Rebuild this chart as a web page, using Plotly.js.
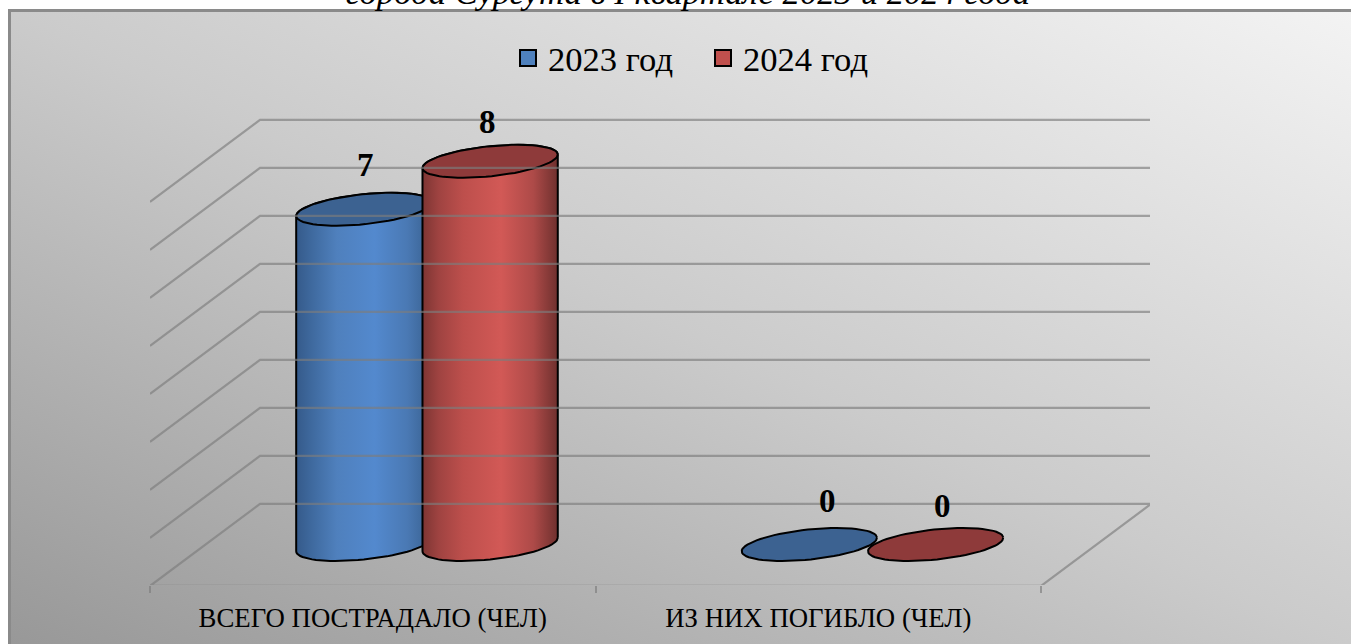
<!DOCTYPE html>
<html lang="ru">
<head>
<meta charset="utf-8">
<script src="https://cdn.plot.ly/plotly-3.0.1.min.js"></script>
<style>
html,body{margin:0;padding:0;background:#fff;overflow:hidden;width:1351px;height:644px}
#frame{position:absolute;left:8px;top:9px;width:1343px;height:635px;box-sizing:border-box;
border-left:3px solid #8a8a8a;border-top:3px solid #8a8a8a;
background:linear-gradient(to top right,#989898 0%,#cbcbcb 50%,#f3f3f3 100%)}
#chart{position:absolute;left:0;top:0;width:1351px;height:644px}
</style>
</head>
<body>
<div id="frame"></div>
<div id="chart"></div>
<script>
const categories = ['ВСЕГО ПОСТРАДАЛО (ЧЕЛ)', 'ИЗ НИХ ПОГИБЛО (ЧЕЛ)'];
const seriesNames = ['2023 год', '2024 год'];
const values2023 = [7, 0];
const values2024 = [8, 0];
const gridLevels = [1, 2, 3, 4, 5, 6, 7, 8];
const chartTitle = 'города Сургута в I квартале 2023 и 2024 года';

const pxX = 1 / 445.5, pxY = 1 / 47.9;            // axis units per pixel
const depthX = 110 * pxX, depthY = 82 / 48;       // wall depth in wall units
const serif = '"Liberation Serif","Times New Roman",serif';

const series = [
  {name: seriesNames[0], values: values2023, shift: -0.02, flat: '#4f81bd', lid: '#3c6291',
   grad: [[0,'#355a8a'],[0.12,'#3f6a9f'],[0.3,'#4f80bd'],[0.58,'#5389ce'],[0.82,'#4a79b4'],[1,'#38608f']]},
  {name: seriesNames[1], values: values2024, shift: 0.2635, flat: '#c0504d', lid: '#8e3a3a',
   grad: [[0,'#7d3533'],[0.12,'#9f4341'],[0.3,'#bd4f4c'],[0.58,'#d25956'],[0.82,'#ad4a48'],[1,'#6f302e']]}
];

// tilted ellipse of a cylinder cap, in pixels relative to its centre
const A = 68, B = 15, TH = 6 * Math.PI / 180;
const capPoint = t => [A * Math.cos(t) * Math.cos(TH) + B * Math.sin(t) * Math.sin(TH),
                       A * Math.cos(t) * Math.sin(TH) - B * Math.sin(t) * Math.cos(TH)];
const T0 = Math.atan2(B * Math.sin(TH), A * Math.cos(TH));

function capOutline(cx, v) {
  const xs = [], ys = [];
  for (let i = 0; i <= 72; i++) {
    const p = capPoint(i / 72 * 2 * Math.PI);
    xs.push(cx + p[0] * pxX); ys.push(v + p[1] * pxY);
  }
  return {x: xs, y: ys};
}
function bodyOutline(cx, v) {
  const xs = [], ys = [];
  // front (lower) half of the base from the right tangent to the left tangent
  for (let i = 0; i <= 36; i++) {
    const p = capPoint(T0 + i / 36 * Math.PI);
    xs.push(cx + p[0] * pxX); ys.push(p[1] * pxY);
  }
  // back (upper) half of the top from the left tangent to the right tangent
  for (let i = 0; i <= 36; i++) {
    const p = capPoint(T0 + Math.PI + i / 36 * Math.PI);
    xs.push(cx + p[0] * pxX); ys.push(v + p[1] * pxY);
  }
  xs.push(xs[0]); ys.push(ys[0]);
  return {x: xs, y: ys};
}

const traces = [];

// floor and wall lines on the overlay axes
const wallLine = {color: 'rgba(125,125,125,0.65)', width: 2.2};
traces.push({type: 'scatter', mode: 'lines', xaxis: 'x2', yaxis: 'y2', hoverinfo: 'skip', showlegend: false,
  cliponaxis: false,
  x: [-0.5, 1.5, 1.5 + depthX, -0.5 + depthX, -0.5],
  y: [-depthY, -depthY, 0, 0, -depthY], line: wallLine});
gridLevels.forEach(k => traces.push({type: 'scatter', mode: 'lines', xaxis: 'x2', yaxis: 'y2',
  hoverinfo: 'skip', showlegend: false, cliponaxis: false,
  x: [-0.5, -0.5 + depthX, 1.5 + depthX], y: [k - depthY, k, k], line: wallLine}));

// real bars, then the cylinder skin
series.forEach(s => {
  traces.push({type: 'bar', x: categories, y: s.values, name: s.name, width: 0.27,
    offset: s.shift - 0.135, marker: {color: s.flat}, showlegend: false, hoverinfo: 'skip'});
});
series.forEach(s => {
  s.values.forEach((v, c) => {
    const cx = c + s.shift;
    if (v > 0) {
      const b = bodyOutline(cx, v);
      traces.push({type: 'scatter', mode: 'lines', xaxis: 'x2', x: b.x, y: b.y, fill: 'toself',
        fillgradient: {type: 'horizontal', colorscale: s.grad},
        line: {color: '#000', width: 2}, showlegend: false, hoverinfo: 'skip'});
    }
    const l = capOutline(cx, v);
    traces.push({type: 'scatter', mode: 'lines', xaxis: 'x2', x: l.x, y: l.y, fill: 'toself',
      fillcolor: s.lid, line: {color: '#000', width: 2}, showlegend: false, hoverinfo: 'skip'});
  });
});

// legend entries
series.forEach(s => traces.push({type: 'scatter', mode: 'markers', x: [null], y: [null], name: s.name,
  xaxis: 'x2', marker: {symbol: 'square', size: 16, color: s.flat, line: {color: '#000', width: 2}}}));

// data labels: [dx, dy] nudges in pixels
const labelNudge = [[[2, -44], [18, -44]], [[-3, -39], [7, -39]]];
const annotations = [];
series.forEach((s, i) => s.values.forEach((v, c) => annotations.push({
  xref: 'x2', yref: 'y', x: c + s.shift, y: v, text: String(v), showarrow: false,
  xshift: labelNudge[i][c][0], yshift: -labelNudge[i][c][1], xanchor: 'center', yanchor: 'middle',
  font: {family: serif, size: 33, color: '#000', weight: 700}
})));

const xRange = [-0.5, -0.5 + 1000 * pxX];
const layout = {
  width: 1351, height: 644, autosize: false,
  margin: {l: 150, r: 201, t: 100, b: 59, pad: 0},
  paper_bgcolor: 'rgba(0,0,0,0)', plot_bgcolor: 'rgba(0,0,0,0)',
  barmode: 'overlay', hovermode: false,
  title: {text: chartTitle, x: 688 / 1351, xanchor: 'center', y: 1 - 4 / 644, yanchor: 'bottom', yref: 'container',
    font: {family: serif, size: 34.7, color: '#000', style: 'italic'}},
  font: {family: serif, color: '#000'},
  xaxis: {type: 'category', categories: categories, categoryorder: 'array', categoryarray: categories,
    range: xRange, tickson: 'boundaries', ticks: 'outside', ticklen: 7, tickwidth: 2,
    tickcolor: 'rgba(125,125,125,0.65)', showline: false, showgrid: false, zeroline: false,
    tickfont: {family: serif, size: 26.8, color: '#000'}, fixedrange: true, ticklabelstandoff: 14},
  xaxis2: {overlaying: 'x', type: 'linear', range: xRange, visible: false, fixedrange: true},
  yaxis: {range: [-40.5 * pxY, 444.5 * pxY], visible: false, fixedrange: true},
  yaxis2: {overlaying: 'y', range: [-82 / 48 + 0.02, 403 / 48 + 0.02], visible: false, fixedrange: true},
  legend: {orientation: 'h', x: 703 / 1351, xref: 'container', xanchor: 'center', y: 1 - 58 / 644, yref: 'container', yanchor: 'middle',
    bgcolor: 'rgba(0,0,0,0)', font: {family: serif, size: 34.6, color: '#000'},
    itemwidth: 30, traceorder: 'normal', entrywidthmode: 'pixels', entrywidth: 150},
  showlegend: true,
  annotations: annotations
};
Plotly.newPlot('chart', traces, layout, {staticPlot: true, displayModeBar: false});
</script>
</body>
</html>
